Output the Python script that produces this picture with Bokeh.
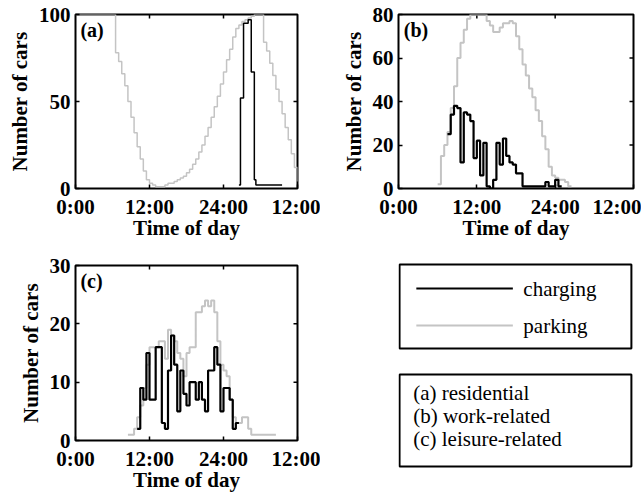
from bokeh.plotting import figure
from bokeh.models import Range1d, FixedTicker, Label
from bokeh.layouts import column, row
from bokeh.embed import file_html
from bokeh.resources import INLINE
from bokeh.core.properties import value

FONT = "Liberation Serif"
GRAY = "#c4c4c4"
BLACK = "#000000"

x_ticks = [0, 12, 24, 36]
x_tick_labels = ["0:00", "12:00", "24:00", "12:00"]

# ---------------- data (hours of day, number of cars) ----------------
# (a) residential
a_park_start = 0.0
a_park_vals = [100, 100, 100, 100, 100, 100, 100, 100, 100, 100, 100, 100, 100,
               78, 73, 66, 59, 50, 41, 32, 24, 17, 10, 5, 3, 2, 1, 1, 1, 2, 3, 3,
               4, 5, 6, 7, 9, 11, 14, 17, 21, 25, 30, 35, 41, 47, 53, 60, 67, 74,
               80, 87, 92, 94, 96, 97, 98, 99, 100, 100, 100, 84, 79, 72, 65, 57,
               50, 43, 35, 28, 20, 12, 4]
a_charge_t = [26.5, 26.75, 27.25, 28.0, 28.5, 29.0, 29.25, 33.5]
a_charge_vals = [2, 52, 95, 97, 67, 5, 2, 2]

# (b) work-related
b_park_start = 6.0
b_park_vals = [2, 15, 20, 26, 37, 47, 60, 67, 73, 78, 80, 80, 80, 80, 80, 77, 75,
               72, 72, 74, 76, 76, 77, 76, 70, 64, 57, 52, 46, 42, 36, 31, 24, 18,
               10, 6, 5, 4, 4, 3, 1, 1]
b_charge_start = 7.5
b_charge_vals = [25, 34, 38, 37, 12, 35, 34, 31, 14, 22, 6, 21, 1, 0, 4, 21, 11,
                 23, 15, 12, 11, 7, 7, 1, 1, 1, 1, 1, 1, 1, 3, 1, 1, 4, 1, 1]

# (c) leisure-related
c_park_start = 8.5
c_park_vals = [1, 1, 2, 4, 6, 9, 13, 16, 16, 16, 17, 17, 14, 19, 18, 17, 15, 14,
               11, 15, 16, 16, 22, 22, 23, 24, 23, 24, 22, 17, 13, 12, 11, 7, 4, 3,
               3, 4, 4, 2, 1, 1, 1, 1, 1, 1, 1, 1, 1]
c_charge_start = 10.0
c_charge_vals = [2, 9, 7, 15, 7, 7, 16, 16, 3, 2, 12, 18, 13, 5, 12, 8, 6, 10, 10,
                 7, 10, 7, 5, 12, 12, 16, 13, 5, 9, 9, 7, 2, 3, 3]

legend_labels = ["charging", "parking"]
info_labels = ["(a) residential", "(b) work-related", "(c) leisure-related"]

STEP = 0.5
TICK_LEN = 4  # px


def grid(start, vals):
    return [start + STEP * i for i in range(len(vals))]


def make_panel(w, h, left, right, top, bottom, ymax, yticks, tag, tag_y):
    p = figure(width=w, height=h, output_backend="svg", toolbar_location=None,
               x_range=Range1d(0, 36), y_range=Range1d(0, ymax),
               min_border_left=left, min_border_right=right,
               min_border_top=top, min_border_bottom=bottom)
    p.grid.visible = False
    p.outline_line_color = BLACK
    p.outline_line_width = 2
    p.background_fill_color = "white"
    p.border_fill_color = "white"
    p.xaxis.ticker = FixedTicker(ticks=x_ticks)
    p.xaxis.major_label_overrides = {t: l for t, l in zip(x_ticks, x_tick_labels)}
    p.yaxis.ticker = FixedTicker(ticks=yticks)
    p.xaxis.axis_label = "Time of day"
    p.yaxis.axis_label = "Number of cars"
    for ax in [p.xaxis[0], p.yaxis[0]]:
        ax.axis_line_color = None
        ax.major_tick_in = TICK_LEN
        ax.major_tick_out = 0
        ax.major_tick_line_width = 1.5
        ax.minor_tick_line_color = None
        ax.major_label_text_font = FONT
        ax.major_label_text_font_style = "bold"
        ax.major_label_text_font_size = "21px"
        ax.major_label_text_color = BLACK
        ax.axis_label_text_font = FONT
        ax.axis_label_text_font_style = "bold"
        ax.axis_label_text_font_size = "21px"
        ax.axis_label_text_color = BLACK
    p.xaxis.major_label_standoff = 6
    p.xaxis.axis_label_standoff = -6
    p.yaxis.major_label_standoff = 5
    p.yaxis.axis_label_standoff = 4
    # mirrored inward ticks on the right and top edges of the frame
    fw = w - left - right
    fh = h - top - bottom
    dx = TICK_LEN * 36 / fw
    dy = TICK_LEN * ymax / fh
    inner_y = [t for t in yticks if 0 < t < ymax]
    inner_x = [t for t in x_ticks if 0 < t < 36]
    p.segment(x0=[36 - dx] * len(inner_y), x1=[36] * len(inner_y), y0=inner_y,
              y1=inner_y, line_color=BLACK, line_width=1.5)
    p.segment(x0=inner_x, x1=inner_x, y0=[ymax - dy] * len(inner_x),
              y1=[ymax] * len(inner_x), line_color=BLACK, line_width=1.5)
    p.add_layout(Label(x=0.8, y=tag_y, text=tag, text_font=FONT,
                       text_font_style="bold", text_font_size="20px",
                       text_baseline="middle", text_color=BLACK))
    return p


pa = make_panel(320, 250, 75, 23, 14, 62, 100, [0, 50, 100], "(a)", 91)
pa.step(grid(a_park_start, a_park_vals), a_park_vals, mode="after",
        line_color=GRAY, line_width=1.5)
pa.step(a_charge_t, a_charge_vals, mode="after", line_color=BLACK, line_width=1.5)

pb = make_panel(321, 250, 78, 8, 14, 62, 80, [0, 20, 40, 60, 80], "(b)", 73)
pb.step(grid(b_park_start, b_park_vals), b_park_vals, mode="after",
        line_color=GRAY, line_width=2)
pb.step(grid(b_charge_start, b_charge_vals), b_charge_vals, mode="after",
        line_color=BLACK, line_width=2.2)

pc = make_panel(320, 244, 75, 23, 15, 54, 30, [0, 10, 20, 30], "(c)", 27.4)
pc.step(grid(c_park_start, c_park_vals), c_park_vals, mode="after",
        line_color=GRAY, line_width=2)
pc.step(grid(c_charge_start, c_charge_vals), c_charge_vals, mode="after",
        line_color=BLACK, line_width=2.2)

# ---------------- legend panel (coordinates = pixels of this panel) ----------------
pd = figure(width=321, height=244, output_backend="svg", toolbar_location=None,
            x_range=Range1d(78, 302), y_range=Range1d(244, 0),
            x_axis_type=None, y_axis_type=None,
            min_border_left=78, min_border_right=8,
            min_border_top=0, min_border_bottom=0)
pd.grid.visible = False
pd.outline_line_color = None
pd.background_fill_color = "white"
pd.border_fill_color = "white"

legend_colors = [BLACK, GRAY]
box_left, box_right = 79, 300
pd.quad(left=[box_left, box_left], right=[box_right, box_right], top=[14, 124],
        bottom=[98, 216], fill_color=None, line_color=BLACK, line_width=2)
rows_y = [38, 75]
for lab, col, yy in zip(legend_labels, legend_colors, rows_y):
    pd.line([95, 187], [yy, yy], line_color=col, line_width=2)
    pd.text(x=[197], y=[yy], text=[lab], text_font=value(FONT),
            text_font_size="21px", text_baseline="middle", text_color=BLACK)
info_y = [142, 165, 188]
pd.text(x=[92] * 3, y=info_y, text=info_labels, text_font=value(FONT),
        text_font_size="21px", text_baseline="middle", text_color=BLACK)

layout = row(column(pa, pc), column(pb, pd))
open("out.html", "w").write(file_html(layout, INLINE))
